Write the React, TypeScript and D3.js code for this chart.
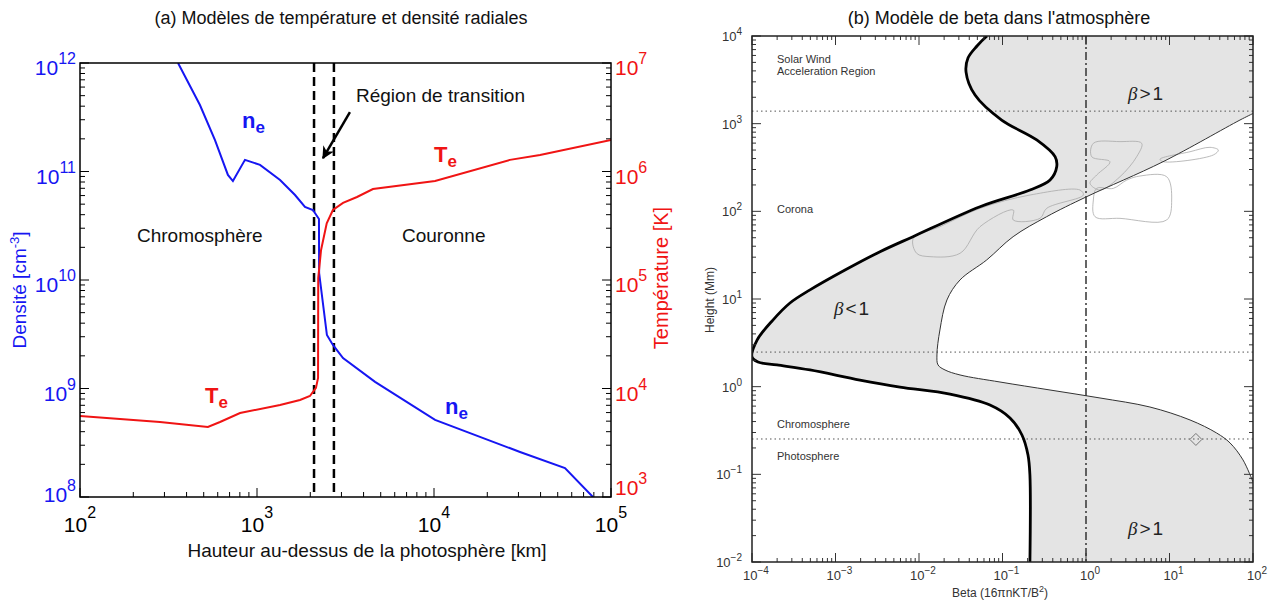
import React from 'react';
import * as d3 from 'd3';

// ---------- Panel (a) data ----------
const neHeight = [358, 476, 579, 685, 731, 855, 1040, 1350, 1640, 1866, 2070, 2239, 2244, 2483, 2685, 3062, 4645, 10140, 30620, 54950, 79070];
const neDensity = [1e12, 4.1e11, 1.95e11, 9.29e10, 8.17e10, 1.28e11, 1.15e11, 8.36e10, 6.07e10, 4.71e10, 4.42e10, 3.65e10, 1.16e10, 3.11e9, 2.52e9, 1.91e9, 1.15e9, 5.13e8, 2.6e8, 1.85e8, 1e8];
const teHeight = [100, 283, 528, 618, 802, 1349, 1750, 1991, 2153, 2213, 2218, 2301, 2477, 2685, 3062, 3673, 4519, 10140, 26850, 39720, 100000];
const teTemp = [5585, 4909, 4416, 4909, 5943, 7047, 7834, 8530, 10120, 12500, 1.04e5, 1.89e5, 3.33e5, 4.42e5, 5.13e5, 5.82e5, 6.9e5, 8.17e5, 1.28e6, 1.42e6, 1.95e6];
const transitionHeights = [2100, 2720];
const xTicksA = [2, 3, 4, 5];
const densTicks = [8, 9, 10, 11, 12];
const tempTicks = [3, 4, 5, 6, 7];

// ---------- Panel (b) data ----------
const thickBeta = [0.213, 0.213, 0.202, 0.171, 0.123, 0.0708, 0.0235, 0.00592, 0.00196, 0.000495, 0.000199, 0.000118, 0.0001, 0.000115, 0.000178, 0.000285, 0.000495, 0.0013, 0.00341, 0.00847, 0.0538, 0.213, 0.371, 0.446, 0.426, 0.257, 0.0977, 0.0469, 0.0366, 0.0386, 0.0495, 0.0652];
const thickHeight = [0.01, 0.098, 0.166, 0.281, 0.44, 0.618, 0.824, 0.991, 1.19, 1.55, 1.77, 1.91, 2.18, 3.4, 5.75, 9.0, 12.7, 21.4, 34.6, 51.4, 113, 175, 228, 323, 420, 652, 1100, 2120, 3880, 5610, 7690, 10000];
const thinBeta = [100, 75.9, 53.1, 36.7, 17.6, 5.83, 1.47, 0.371, 0.0933, 0.031, 0.0205, 0.0169, 0.0164, 0.0178, 0.0216, 0.031, 0.0647, 0.134, 0.338, 1.02, 8.36, 69.8, 100];
const thinHeight = [0.0818, 0.146, 0.228, 0.296, 0.417, 0.586, 0.743, 0.916, 1.13, 1.36, 1.55, 1.77, 2.3, 4.43, 9.75, 16.5, 27.9, 51.4, 86.9, 147, 368, 1100, 1306];
const layerHeights = [1390, 2.48, 0.253];
const markerBeta = [20.7];
const markerHeight = [0.25];
const betaTicks = [-4, -3, -2, -1, 0, 1, 2];
const heightTicks = [-2, -1, 0, 1, 2, 3, 4];
// observed contours, [log10 beta, log10 height]
const contourA = [[-2.068, 1.692], [-2.028, 1.521], [-1.868, 1.483], [-1.509, 1.521], [-1.269, 1.825], [-0.871, 2.015], [-0.871, 1.901], [-0.551, 1.92], [-0.471, 2.034], [-0.032, 2.186], [-0.072, 2.243], [-0.671, 2.186], [-1.269, 2.034], [-1.749, 1.825]];
const contourB = [[0.088, 2.129], [0.108, 1.939], [0.407, 1.92], [0.966, 1.901], [1.026, 2.129], [0.966, 2.395], [0.647, 2.403], [0.488, 2.357], [0.327, 2.262], [0.128, 2.262]];
const contourC = [[0.088, 2.776], [0.068, 2.623], [0.287, 2.566], [0.128, 2.414], [0.048, 2.32], [0.168, 2.243], [0.407, 2.395], [0.607, 2.623], [0.667, 2.776], [0.407, 2.795]];
const contourD = [[0.926, 2.566], [1.525, 2.643], [1.585, 2.699], [1.485, 2.73], [1.246, 2.68], [0.886, 2.594]];

const BLUE = '#1616f2';
const RED = '#f01414';
const SANS = 'Liberation Sans, Arial, sans-serif';

function minorTicks(lo: number, hi: number) {
  const out: number[] = [];
  for (let e = lo; e < hi; e++) for (let m = 2; m <= 9; m++) out.push(m * Math.pow(10, e));
  return out;
}

export default function App() {
  // panel a scales
  const xA = d3.scaleLog().domain([1e2, 1e5]).range([80, 611]);
  const yN = d3.scaleLog().domain([1e8, 1e12]).range([497, 63]);
  const yT = d3.scaleLog().domain([1e3, 1e7]).range([497, 63]);
  const [ax0, ax1] = xA.range();
  const [ay1, ay0] = yN.range();

  // panel b scales
  const xB = d3.scaleLog().domain([1e-4, 1e2]).range([752, 1253]);
  const yH = d3.scaleLog().domain([1e-2, 1e4]).range([562, 36]);
  const [bx0, bx1] = xB.range();
  const [by1, by0] = yH.range();

  const lineA = d3.line<[number, number]>().x(d => d[0]).y(d => d[1]);
  const nePath = lineA(neHeight.map((h, i) => [xA(h), yN(neDensity[i])]));
  const tePath = lineA(teHeight.map((h, i) => [xA(h), yT(teTemp[i])]));

  const curve = d3.line<[number, number]>().x(d => d[0]).y(d => d[1]).curve(d3.curveCatmullRom.alpha(0.5));
  const thickPts: [number, number][] = thickBeta.map((b, i) => [xB(b), yH(thickHeight[i])]);
  const thinPts: [number, number][] = thinBeta.map((b, i) => [xB(b), yH(thinHeight[i])]);
  const thickPath = curve(thickPts) as string;
  const thinPath = curve(thinPts) as string;
  const thinRev = (curve([...thinPts].reverse()) as string).replace(/^M/, 'L');
  const greyPath = thickPath + `L${xB(100)},${yH(1e4)}` + thinRev + `L${xB(100)},${yH(1e-2)}Z`;

  const contourLine = d3.line<number[]>().x(d => xB(Math.pow(10, d[0]))).y(d => yH(Math.pow(10, d[1]))).curve(d3.curveCatmullRomClosed.alpha(0.5));

  const minorA = minorTicks(2, 5);
  const minorN = minorTicks(8, 12);
  const minorB = minorTicks(-4, 2);
  const minorH = minorTicks(-2, 4);

  const arrowStart = [3350, 3.53e11];
  const arrowEnd = [2360, 1.33e11];

  return (
    <svg width={1270} height={600} style={{ position: 'absolute', left: 0, top: 0, background: '#fff' }} fontFamily={SANS}>
      <defs>
        <marker id="ah" viewBox="0 0 10 10" refX="9" refY="5" markerWidth="5" markerHeight="5" orient="auto">
          <path d="M0,0 L10,5 L0,10 L3,5 Z" fill="#000" />
        </marker>
        <clipPath id="clipB"><rect x={bx0} y={by0} width={bx1 - bx0} height={by1 - by0} /></clipPath>
        <clipPath id="clipA"><rect x={ax0} y={ay0} width={ax1 - ax0} height={ay1 - ay0} /></clipPath>
      </defs>

      {/* ================= Panel (a) ================= */}
      <text x={341} y={24} textAnchor="middle" fontSize={18} fill="#111">(a) Modèles de température et densité radiales</text>

      {/* ticks */}
      <g stroke="#000" strokeWidth={1}>
        {densTicks.map(e => <line key={'nm' + e} x1={ax0} x2={ax0 + 9} y1={yN(Math.pow(10, e))} y2={yN(Math.pow(10, e))} />)}
        {minorN.map((v, i) => <line key={'nn' + i} x1={ax0} x2={ax0 + 5} y1={yN(v)} y2={yN(v)} />)}
        {densTicks.map(e => <line key={'tm' + e} x1={ax1} x2={ax1 - 9} y1={yN(Math.pow(10, e))} y2={yN(Math.pow(10, e))} />)}
        {minorN.map((v, i) => <line key={'tn' + i} x1={ax1} x2={ax1 - 5} y1={yN(v)} y2={yN(v)} />)}
        {xTicksA.map(e => <line key={'xm' + e} x1={xA(Math.pow(10, e))} x2={xA(Math.pow(10, e))} y1={ay1} y2={ay1 - 9} />)}
        {minorA.map((v, i) => <line key={'xn' + i} x1={xA(v)} x2={xA(v)} y1={ay1} y2={ay1 - 5} />)}
      </g>

      {/* dashed transition lines */}
      {transitionHeights.map((h, i) => (
        <line key={'tr' + i} x1={xA(h)} x2={xA(h)} y1={ay0} y2={ay1} stroke="#000" strokeWidth={2.5} strokeDasharray="9,5" />
      ))}

      <g clipPath="url(#clipA)">
        <path d={nePath as string} fill="none" stroke={BLUE} strokeWidth={2} />
        <path d={tePath as string} fill="none" stroke={RED} strokeWidth={2} />
      </g>

      <rect x={ax0} y={ay0} width={ax1 - ax0} height={ay1 - ay0} fill="none" stroke="#000" strokeWidth={1.5} />

      {/* left density labels */}
      {densTicks.map(e => (
        <text key={'dl' + e} x={76} y={yN(Math.pow(10, e)) + (e === 8 ? 5 : 12)} textAnchor="end" fill={BLUE} fontSize={21}>
          10<tspan dy={-11} fontSize={16}>{e}</tspan>
        </text>
      ))}
      {/* right temperature labels */}
      {tempTicks.map(e => (
        <text key={'tl' + e} x={615} y={yT(Math.pow(10, e)) + (e === 3 ? -2 : 12)} textAnchor="start" fill={RED} fontSize={21}>
          10<tspan dy={-11} fontSize={16}>{e}</tspan>
        </text>
      ))}
      {/* x labels */}
      {xTicksA.map(e => (
        <text key={'xl' + e} x={xA(Math.pow(10, e))} y={532} textAnchor="middle" fill="#000" fontSize={21}>
          10<tspan dy={-14} fontSize={16}>{e}</tspan>
        </text>
      ))}
      <text x={367} y={557} textAnchor="middle" fontSize={19} fill="#111">Hauteur au-dessus de la photosphère [km]</text>
      <text transform="translate(26,290) rotate(-90)" textAnchor="middle" fontSize={19} fill={BLUE}>
        Densité  [cm<tspan dy={-7} fontSize={13}>-3</tspan><tspan dy={7}>]</tspan>
      </text>
      <text transform="translate(668,278) rotate(-90)" textAnchor="middle" fontSize={20} fill={RED}>Température  [K]</text>

      {/* annotations */}
      <text x={137} y={242} fontSize={19} fill="#111">Chromosphère</text>
      <text x={402} y={242} fontSize={19} fill="#111">Couronne</text>
      <text x={356} y={102} fontSize={19} fill="#111">Région de transition</text>
      <line x1={xA(arrowStart[0])} y1={yN(arrowStart[1])} x2={xA(arrowEnd[0])} y2={yN(arrowEnd[1])} stroke="#000" strokeWidth={2.5} markerEnd="url(#ah)" />

      <text x={242} y={128} fontSize={22} fontWeight="bold" fill={BLUE}>n<tspan dy={5} fontSize={17}>e</tspan></text>
      <text x={445} y={414} fontSize={22} fontWeight="bold" fill={BLUE}>n<tspan dy={5} fontSize={17}>e</tspan></text>
      <text x={434} y={162} fontSize={22} fontWeight="bold" fill={RED}>T<tspan dy={5} fontSize={17}>e</tspan></text>
      <text x={205} y={403} fontSize={22} fontWeight="bold" fill={RED}>T<tspan dy={5} fontSize={17}>e</tspan></text>

      {/* ================= Panel (b) ================= */}
      <text x={999} y={24} textAnchor="middle" fontSize={18} fill="#111">(b) Modèle de beta dans l'atmosphère</text>

      <g clipPath="url(#clipB)">
        <path d={greyPath} fill="#e4e4e4" stroke="none" />
        {[contourA, contourB, contourC, contourD].map((c, i) => (
          <path key={'ct' + i} d={contourLine(c) as string} fill="none" stroke="#aaaaaa" strokeWidth={0.8} />
        ))}
        {layerHeights.map((h, i) => (
          <line key={'ly' + i} x1={bx0} x2={bx1} y1={yH(h)} y2={yH(h)} stroke="#555" strokeWidth={1} strokeDasharray="1.5,3" />
        ))}
        <line x1={xB(1)} x2={xB(1)} y1={by0} y2={by1} stroke="#333" strokeWidth={1.5} strokeDasharray="8,3,2,3" />
        <path d={thinPath} fill="none" stroke="#333" strokeWidth={1} />
        <path d={thickPath} fill="none" stroke="#000" strokeWidth={2.8} />
        {markerBeta.map((b, i) => {
          const cx = xB(b), cy = yH(markerHeight[i]);
          return <path key={'mk' + i} d={`M${cx},${cy - 6}L${cx + 6},${cy}L${cx},${cy + 6}L${cx - 6},${cy}Z`} fill="none" stroke="#777" strokeWidth={1} />;
        })}
      </g>

      <g stroke="#333" strokeWidth={1}>
        {heightTicks.map(e => {
          const y = yH(Math.pow(10, e));
          return <g key={'hm' + e}><line x1={bx0} x2={bx0 + 9} y1={y} y2={y} /><line x1={bx1} x2={bx1 - 9} y1={y} y2={y} /></g>;
        })}
        {minorH.map((v, i) => (
          <g key={'hn' + i}><line x1={bx0} x2={bx0 + 4} y1={yH(v)} y2={yH(v)} /><line x1={bx1} x2={bx1 - 4} y1={yH(v)} y2={yH(v)} /></g>
        ))}
        {betaTicks.map(e => {
          const x = xB(Math.pow(10, e));
          return <g key={'bm' + e}><line x1={x} x2={x} y1={by1} y2={by1 - 9} /><line x1={x} x2={x} y1={by0} y2={by0 + 9} /></g>;
        })}
        {minorB.map((v, i) => (
          <g key={'bn' + i}><line x1={xB(v)} x2={xB(v)} y1={by1} y2={by1 - 4} /><line x1={xB(v)} x2={xB(v)} y1={by0} y2={by0 + 4} /></g>
        ))}
      </g>
      <rect x={bx0} y={by0} width={bx1 - bx0} height={by1 - by0} fill="none" stroke="#222" strokeWidth={1.5} />

      {heightTicks.map(e => (
        <text key={'hl' + e} x={742} y={yH(Math.pow(10, e)) + 5} textAnchor="end" fontSize={13} fill="#333">
          10<tspan dy={-6} fontSize={10}>{e < 0 ? '\u2212' + (-e) : e}</tspan>
        </text>
      ))}
      {betaTicks.map(e => (
        <text key={'bl' + e} x={xB(Math.pow(10, e)) + 4} y={580} textAnchor="middle" fontSize={13} fill="#333">
          10<tspan dy={-6} fontSize={10}>{e < 0 ? '\u2212' + (-e) : e}</tspan>
        </text>
      ))}
      <text x={1000} y={597} textAnchor="middle" fontSize={12} fill="#333">
        Beta (16πnKT/B<tspan dy={-5} fontSize={9}>2</tspan><tspan dy={5}>)</tspan>
      </text>
      <text transform="translate(714,300) rotate(-90)" textAnchor="middle" fontSize={12} fill="#333">Height (Mm)</text>

      <g fontSize={11} fill="#333">
        <text x={777} y={63}>Solar Wind</text>
        <text x={777} y={75}>Acceleration Region</text>
        <text x={777} y={213}>Corona</text>
        <text x={777} y={428}>Chromosphere</text>
        <text x={777} y={460}>Photosphere</text>
      </g>
      <g fontSize={19} fill="#222" letterSpacing={2}>
        <text x={1128} y={100}><tspan fontFamily="Liberation Serif, serif" fontStyle="italic">β</tspan>&gt;1</text>
        <text x={1128} y={535}><tspan fontFamily="Liberation Serif, serif" fontStyle="italic">β</tspan>&gt;1</text>
        <text x={834} y={315}><tspan fontFamily="Liberation Serif, serif" fontStyle="italic">β</tspan>&lt;1</text>
      </g>
    </svg>
  );
}
